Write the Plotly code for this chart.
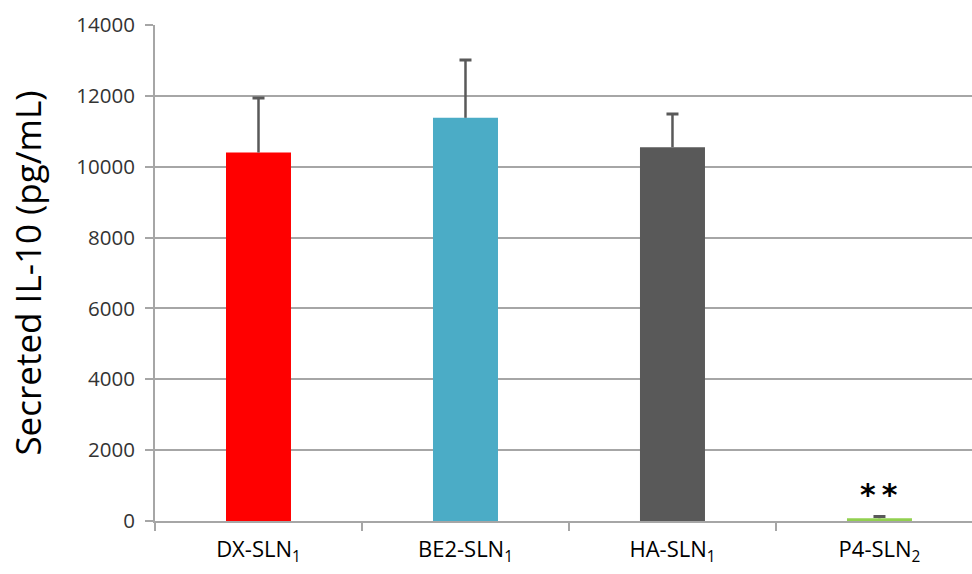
import plotly.graph_objects as go

# Formulations and secreted IL-10 measurements (pg/mL)
categories = ["DX-SLN<sub>1</sub>", "BE2-SLN<sub>1</sub>", "HA-SLN<sub>1</sub>", "P4-SLN<sub>2</sub>"]
il10_mean = [10400, 11380, 10550, 80]
il10_err = [1540, 1630, 940, 50]
bar_colors = ["#FF0000", "#4BACC6", "#595959", "#92D050"]
significance = ["", "", "", "*\u2009*"]
y_ticks = [0, 2000, 4000, 6000, 8000, 10000, 12000, 14000]

err_color = "#595959"
font_family = "Open Sans, Liberation Sans"

fig = go.Figure()
fig.add_trace(go.Bar(
    x=categories,
    y=il10_mean,
    marker=dict(color=bar_colors, line=dict(width=0)),
    width=0.314,
    showlegend=False,
    hoverinfo="x+y",
))

# Upper-only whiskers: a vertical stem from the bar top, plus a cap at its end
stem_x, stem_y = [], []
for cat, mean, err in zip(categories, il10_mean, il10_err):
    stem_x += [cat, cat, None]
    stem_y += [mean, mean + err, None]
fig.add_trace(go.Scatter(
    x=stem_x, y=stem_y, mode="lines",
    line=dict(color=err_color, width=2.5),
    showlegend=False, hoverinfo="skip",
))
fig.add_trace(go.Scatter(
    x=categories, y=[m + e for m, e in zip(il10_mean, il10_err)],
    mode="markers", marker=dict(size=1, opacity=0),
    error_y=dict(type="data", array=[0] * len(categories), color=err_color,
                 thickness=3, width=6),
    showlegend=False, hoverinfo="skip",
))

for cat, mean, err, mark in zip(categories, il10_mean, il10_err, significance):
    if mark:
        fig.add_annotation(x=cat, y=mean + err, text="<b>" + mark + "</b>", showarrow=False,
                           yanchor="middle", yshift=22,
                           font=dict(family="DejaVu Sans", size=30, color="#000000"))

fig.update_layout(
    width=972, height=574,
    margin=dict(l=155, r=0, t=25, b=53),
    paper_bgcolor="white", plot_bgcolor="white",
    font=dict(family=font_family, color="#000000"),
)
fig.update_xaxes(
    range=[-0.5, 3.447],
    showline=True, linecolor="#A6A6A6", linewidth=2,
    ticks="outside", tickson="boundaries", ticklen=8, tickcolor="#A6A6A6", tickwidth=2,
    ticklabelstandoff=8,
    tickfont=dict(size=22, color="#000000"),
    showgrid=False,
)
fig.update_yaxes(
    range=[0, 14000], tickvals=y_ticks,
    ticktext=[str(v) for v in y_ticks],
    showline=True, linecolor="#A6A6A6", linewidth=2,
    ticks="outside", ticklen=8, tickcolor="#A6A6A6", tickwidth=2,
    ticklabelstandoff=6,
    showgrid=True, gridcolor="#A6A6A6", gridwidth=2,
    tickfont=dict(size=20.5, color="#333333"),
    title=dict(text="Secreted IL-10 (pg/mL)", font=dict(size=35, color="#000000"), standoff=24),
    zeroline=False,
)

fig.write_html("out.html")
